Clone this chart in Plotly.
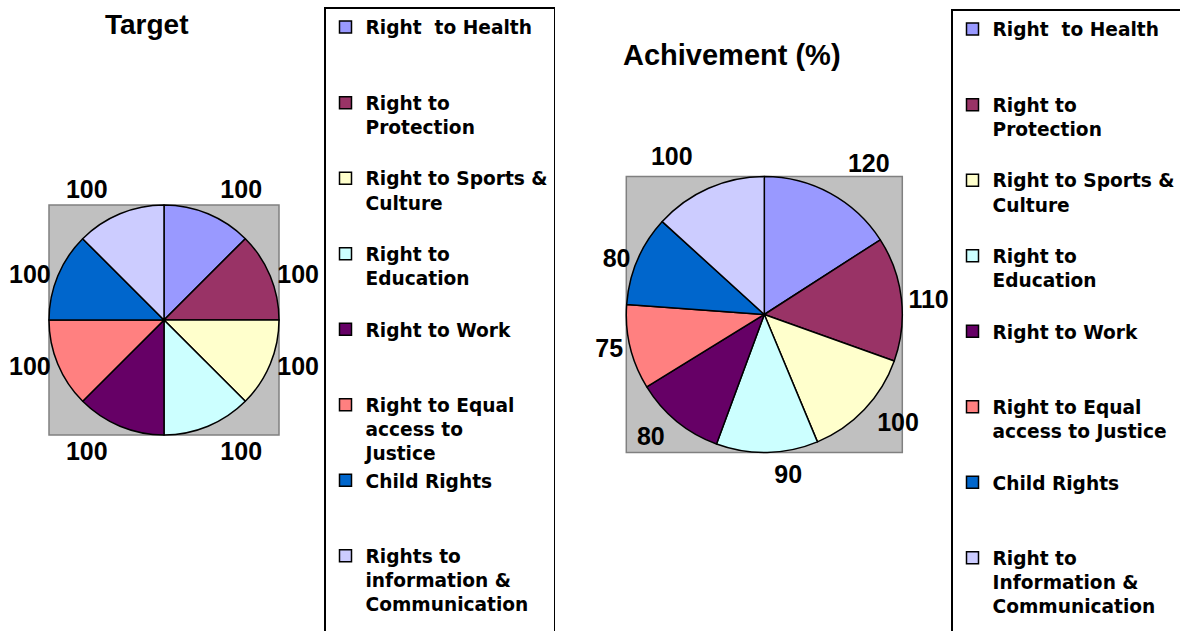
import plotly.graph_objects as go

# ---- data ----
categories_target = [
    "Right  to Health",
    "Right to<br>Protection",
    "Right to Sports &<br>Culture",
    "Right to<br>Education",
    "Right to Work",
    "Right to Equal<br>access to<br>Justice",
    "Child Rights",
    "Rights to<br>information &<br>Communication",
]
categories_achievement = [
    "Right  to Health",
    "Right to<br>Protection",
    "Right to Sports &<br>Culture",
    "Right to<br>Education",
    "Right to Work",
    "Right to Equal<br>access to Justice",
    "Child Rights",
    "Right to<br>Information &<br>Communication",
]
target_values = [100, 100, 100, 100, 100, 100, 100, 100]
achievement_values = [120, 110, 100, 90, 80, 75, 80, 100]
slice_colors = ["#9999FF", "#993366", "#FFFFCC", "#CCFFFF",
                "#660066", "#FF8080", "#0066CC", "#CCCCFF"]
titles = ["Target", "Achivement (%)"]

W, H = 1180, 631


def pad(label, filler, n=3):
    k = label.count("<br>") + 1
    return label + ("<br>" + filler) * (n - k)


def legend_labels(cats, filler):
    # every entry gets the same slot height; the legend box runs past the bottom edge
    return [pad(c, filler, 4 if i == len(cats) - 1 else 3) for i, c in enumerate(cats)]


def px_domain(cx, cy, r):
    return dict(x=[(cx - r) / W, (cx + r) / W],
                y=[(H - (cy + r)) / H, (H - (cy - r)) / H])


# pie geometry (px): centre, radius, and per-slice extra label distance
pie1 = dict(cx=164, cy=320, r=115, extra=[14, 0, 0, 14, 14, 0, 0, 14])
pie2 = dict(cx=764.3, cy=314.5, r=138, extra=[22, 0, 8, 8, 8, 0, 0, 22])

label_font = dict(family="Liberation Sans, Arial, sans-serif", size=25, color="black", weight="bold")

fig = go.Figure()
series = [
    (categories_target, target_values, pie1, "legend", " "),
    (categories_achievement, achievement_values, pie2, "legend2", "\u00a0"),
]
shapes = []
for cats, vals, g, leg, filler in series:
    dom = px_domain(g["cx"], g["cy"], g["r"])
    fig.add_trace(go.Pie(
        labels=legend_labels(cats, filler), values=vals,
        sort=False, direction="clockwise", rotation=0,
        marker=dict(colors=slice_colors, line=dict(color="black", width=1.5)),
        textinfo="none", domain=dom, legend=leg, hoverinfo="label+value",
    ))
    # transparent rings that carry the value labels at the wanted distance
    for ex in sorted(set(g["extra"])):
        tmpl = ["%{value}" if e == ex else "" for e in g["extra"]]
        fig.add_trace(go.Pie(
            labels=["lbl-%s-%d-%d" % (leg, ex, i) for i in range(len(cats))], values=vals,
            sort=False, direction="clockwise", rotation=0,
            marker=dict(colors=["rgba(0,0,0,0)"] * len(cats), line=dict(width=0)),
            texttemplate=tmpl, textposition="outside", textfont=label_font,
            domain=px_domain(g["cx"], g["cy"], g["r"] + ex),
            showlegend=False, hoverinfo="skip",
        ))
    shapes.append(dict(type="rect", xref="paper", yref="paper",
                       x0=dom["x"][0], x1=dom["x"][1], y0=dom["y"][0], y1=dom["y"][1],
                       fillcolor="#C0C0C0", line=dict(color="#808080", width=1.5),
                       layer="below"))

title_font = dict(family="Liberation Sans, Arial, sans-serif", size=28, color="black", weight="bold")
annotations = [
    dict(text=titles[0], x=146.5 / W, y=1 - 25 / H, xref="paper", yref="paper",
         xanchor="center", yanchor="middle", showarrow=False, font=title_font),
    dict(text=titles[1], x=731.5 / W, y=1 - 55 / H, xref="paper", yref="paper",
         xanchor="center", yanchor="middle", showarrow=False,
         font=dict(title_font, size=29)),
]

legend_font = dict(family="DejaVu Sans, sans-serif", size=18.6, color="black", weight="bold")
common_leg = dict(xanchor="left", yanchor="top", bordercolor="black", borderwidth=1.5,
                  bgcolor="rgba(255,255,255,0)", font=legend_font, valign="top",
                  traceorder="normal", maxheight=1200,
                  itemclick=False, itemdoubleclick=False)

fig.update_layout(
    width=W, height=H,
    margin=dict(l=0, r=0, t=0, b=0, autoexpand=False),
    paper_bgcolor="white", plot_bgcolor="white",
    shapes=shapes, annotations=annotations,
    legend=dict(x=324 / W, y=1 - 7 / H, **common_leg),
    legend2=dict(x=951 / W, y=1 - 9 / H, **common_leg),
    showlegend=True,
)

fig.write_html("out.html", config={"displayModeBar": False},
               post_script="document.body.style.margin='0';document.body.style.overflow='hidden';")
